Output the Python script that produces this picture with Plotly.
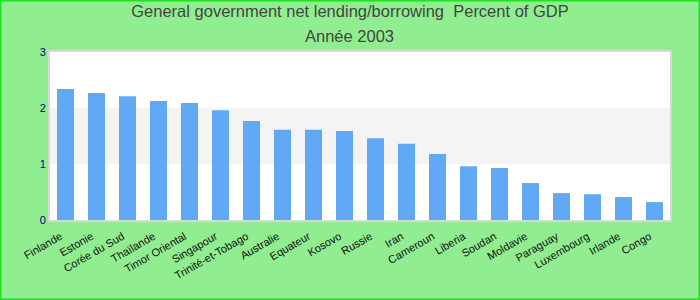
import plotly.graph_objects as go

countries = ["Finlande", "Estonie", "Corée du Sud", "Thaïlande", "Timor Oriental",
             "Singapour", "Trinité-et-Tobago", "Australie", "Equateur", "Kosovo",
             "Russie", "Iran", "Cameroun", "Liberia", "Soudan", "Moldavie",
             "Paraguay", "Luxembourg", "Irlande", "Congo"]
values = [2.34, 2.27, 2.21, 2.125, 2.09, 1.96, 1.77, 1.61, 1.61, 1.59,
          1.46, 1.36, 1.18, 0.96, 0.93, 0.66, 0.48, 0.46, 0.41, 0.32]
y_ticks = [0, 1, 2, 3]
title_line1 = "General government net lending/borrowing  Percent of GDP"
title_line2 = "Année 2003"

W, H = 700, 300
ml, mr, mt, mb = 50, 30, 52, 80
pw, ph = W - ml - mr, H - mt - mb

fig = go.Figure(go.Bar(x=countries, y=values, marker_color="#62a9f5",
                       marker_line_width=0, width=0.55))

title_font = dict(family="Liberation Sans, Arial", size=16.5, color="#444444")
fig.update_layout(
    width=W, height=H,
    margin=dict(l=ml, r=mr, t=mt, b=mb),
    paper_bgcolor="#90ee90",
    plot_bgcolor="white",
    title=dict(text=title_line1, x=0.5, xref="container", xanchor="center",
               y=1 - 11.5 / H, yref="container", yanchor="middle", font=title_font),
    annotations=[dict(text=title_line2, xref="paper", yref="paper",
                      x=(349 - ml) / pw, y=1 + (mt - 36) / ph,
                      xanchor="center", yanchor="middle", showarrow=False,
                      font=title_font)],
    font=dict(family="Liberation Sans, Arial"),
    showlegend=False,
    bargap=0.45,
    shapes=[
        dict(type="rect", xref="paper", yref="y", x0=0, x1=1, y0=1, y1=2,
             fillcolor="#f4f4f4", line_width=0, layer="below"),
        dict(type="rect", xref="paper", yref="paper",
             x0=-ml / pw + 0.5 / pw, x1=1 + mr / pw - 0.5 / pw,
             y0=-mb / ph + 0.5 / ph, y1=1 + mt / ph - 0.5 / ph,
             line=dict(color="#22e022", width=2), fillcolor="rgba(0,0,0,0)"),
    ],
)
fig.update_xaxes(tickangle=-30, tickfont=dict(size=11, color="#111111"),
                 showline=True, linecolor="#d8d8d8", linewidth=2, mirror=True,
                 ticks="", showgrid=False, ticklabelstandoff=4, ticklabelshift=-5)
fig.update_yaxes(range=[0, 3], tickvals=y_ticks, tickfont=dict(size=11, color="#00008b"),
                 showline=True, linecolor="#d8d8d8", linewidth=2, mirror=True,
                 showgrid=False, zeroline=False, ticks="", ticklen=0)

fig.write_html("out.html")
